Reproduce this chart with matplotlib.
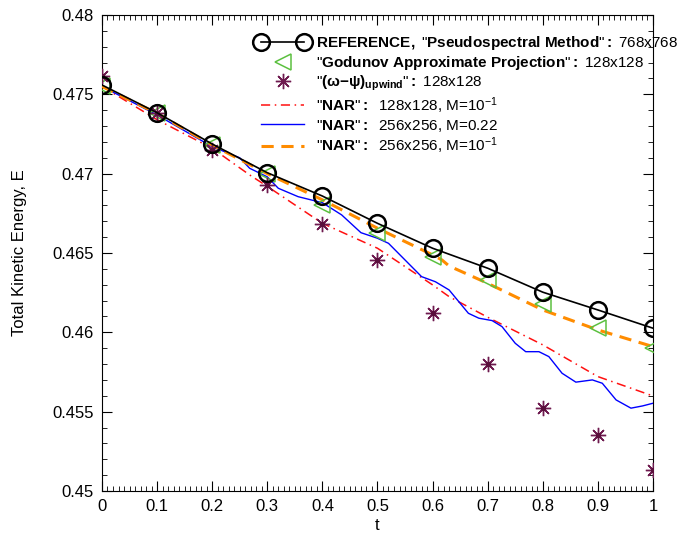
import matplotlib
matplotlib.use("Agg")
from matplotlib import pyplot as plt
from matplotlib.legend_handler import HandlerLine2D
from matplotlib.ticker import MultipleLocator

plt.rcParams['font.family'] = ['Liberation Sans', 'DejaVu Sans']
plt.rcParams['mathtext.fontset'] = 'custom'
plt.rcParams['mathtext.rm'] = 'Liberation Sans'
plt.rcParams['mathtext.bf'] = 'Liberation Sans:bold'
plt.rcParams['mathtext.it'] = 'Liberation Sans'

# reference, pseudospectral 768x768
t_ref = [0, 0.1, 0.2, 0.3, 0.4, 0.5, 0.6, 0.7, 0.8, 0.9, 1.0]
e_ref = [0.47559, 0.47384, 0.47187, 0.47006, 0.46859, 0.46687, 0.4653,
         0.46404, 0.46253, 0.46141, 0.46026]

# godunov approximate projection 128x128
t_god = [0, 0.1, 0.2, 0.3, 0.4, 0.5, 0.6, 0.7, 0.8, 0.9, 1.0]
e_god = [0.4755, 0.4738, 0.4718, 0.4700, 0.46803, 0.46628, 0.46477,
         0.4633, 0.46179, 0.4603, 0.4590]

# (omega-psi) upwind 128x128
t_up = [0, 0.1, 0.2, 0.3, 0.4, 0.5, 0.6, 0.7, 0.8, 0.9, 1.0]
e_up = [0.47616, 0.4738, 0.47149, 0.46929, 0.46683, 0.46456, 0.46124,
        0.45801, 0.45522, 0.45354, 0.45133]

# NAR 128x128, M=0.1
t_nar1 = [0, 0.1, 0.2, 0.268, 0.3, 0.4, 0.5, 0.6, 0.63, 0.7, 0.8, 0.9, 1.0]
e_nar1 = [0.4755, 0.4734, 0.4716, 0.46992, 0.4692, 0.46687, 0.4653,
          0.46299, 0.46225, 0.46095, 0.45921, 0.45721, 0.45599]

# NAR 256x256, M=0.22
t_nar2 = [0, 0.05, 0.1, 0.15, 0.2, 0.25, 0.268, 0.30, 0.32, 0.356, 0.40,
          0.435, 0.47, 0.50, 0.52, 0.55, 0.58, 0.605, 0.63, 0.665, 0.684,
          0.708, 0.726, 0.75, 0.769, 0.793, 0.811, 0.835, 0.86, 0.89,
          0.908, 0.933, 0.96, 0.981, 1.0]
e_nar2 = [0.4755, 0.4746, 0.4737, 0.4727, 0.4717, 0.4710, 0.47034, 0.4698,
          0.46908, 0.46855, 0.46817, 0.4674, 0.46628, 0.46593, 0.46561,
          0.46456, 0.46351, 0.46319, 0.46267, 0.4612, 0.46089, 0.46074,
          0.46036, 0.45931, 0.45878, 0.45878, 0.45847, 0.45742, 0.45686,
          0.457, 0.45679, 0.45574, 0.45522, 0.45536, 0.45553]

# NAR 256x256, M=0.1
t_nar3 = [0, 0.1, 0.2, 0.3, 0.4, 0.5, 0.6, 0.617, 0.63, 0.7, 0.8, 0.9, 1.0]
e_nar3 = [0.4755, 0.4738, 0.4718, 0.4700, 0.46835, 0.46656, 0.46488,
          0.46456, 0.46418, 0.46309, 0.46141, 0.46015, 0.4591]

fig = plt.figure(figsize=(6.98, 5.38), dpi=100)
ax = fig.add_axes([0.1461, 0.0874, 0.7894, 0.8847])

l_ref, = ax.plot(t_ref, e_ref, color="black", lw=1.2, marker="o", ms=12,
                 mfc="none", mec="black", mew=1.8, zorder=5,
                 label=r'$\mathbf{REFERENCE,}$ "$\mathbf{Pseudospectral\ Method}$"$\mathbf{:}$ 768x768')
l_god, = ax.plot(t_god, e_god, ls="none", marker="<", ms=11, mfc="none",
                 mec="#5cc040", mew=1.1, zorder=4,
                 label=r'"$\mathbf{Godunov\ Approximate\ Projection}$"$\mathbf{:}$ 128x128')
l_up, = ax.plot(t_up, e_up, ls="none", marker=(8, 2, 0), ms=11,
                mec="#6e1a4f", color="#6e1a4f", mew=1.0, zorder=4,
                label=r'"$\mathbf{(\omega{-}\psi)_{upwind}}$"$\mathbf{:}$ 128x128')
ax.plot(t_up, e_up, ls="none", marker="o", ms=3, color="#5a0f3c", zorder=4)
l_n1, = ax.plot(t_nar1, e_nar1, color="#ff1010", lw=1.1,
                ls=(0, (6, 3, 1, 3)), zorder=3,
                label=r'"$\mathbf{NAR}$"$\mathbf{:}$  128x128, M=10$^{-1}$')
l_n2, = ax.plot(t_nar2, e_nar2, color="#0000ff", lw=1.0, zorder=3,
                label=r'"$\mathbf{NAR}$"$\mathbf{:}$  256x256, M=0.22')
l_n3, = ax.plot(t_nar3, e_nar3, color="#ff8c00", lw=2.2,
                ls=(0, (4, 2.5)), zorder=3,
                label=r'"$\mathbf{NAR}$"$\mathbf{:}$  256x256, M=10$^{-1}$')

ax.set_xlim(0, 1)
ax.set_ylim(0.45, 0.48)
ax.xaxis.set_minor_locator(MultipleLocator(0.01))
ax.yaxis.set_minor_locator(MultipleLocator(0.001))
ax.set_xticks([0, 0.1, 0.2, 0.3, 0.4, 0.5, 0.6, 0.7, 0.8, 0.9, 1.0])
ax.set_xticklabels(["0", "0.1", "0.2", "0.3", "0.4", "0.5", "0.6", "0.7",
                    "0.8", "0.9", "1"])
ax.set_yticks([0.45, 0.455, 0.46, 0.465, 0.47, 0.475, 0.48])
ax.set_yticklabels(["0.45", "0.455", "0.46", "0.465", "0.47", "0.475", "0.48"])
ax.tick_params(which="both", direction="in", top=True, right=True,
               labelsize=12)
ax.tick_params(which="major", length=7, pad=6)
ax.tick_params(which="minor", length=3.5)

ax.set_xlabel("t", fontsize=12, labelpad=3)
ax.set_ylabel("Total Kinetic Energy, E", fontsize=12, labelpad=18)

one = HandlerLine2D(numpoints=1)
leg = fig.legend(handles=[l_ref, l_god, l_up, l_n1, l_n2, l_n3],
                 loc="upper left", bbox_to_anchor=(0.368, 0.937),
                 frameon=False, fontsize=11, numpoints=2,
                 handlelength=3.4, handletextpad=0.5, labelspacing=0.13,
                 borderaxespad=0, borderpad=0,
                 handler_map={l_god: one, l_up: one})

fig.savefig("out.png", dpi=100)
